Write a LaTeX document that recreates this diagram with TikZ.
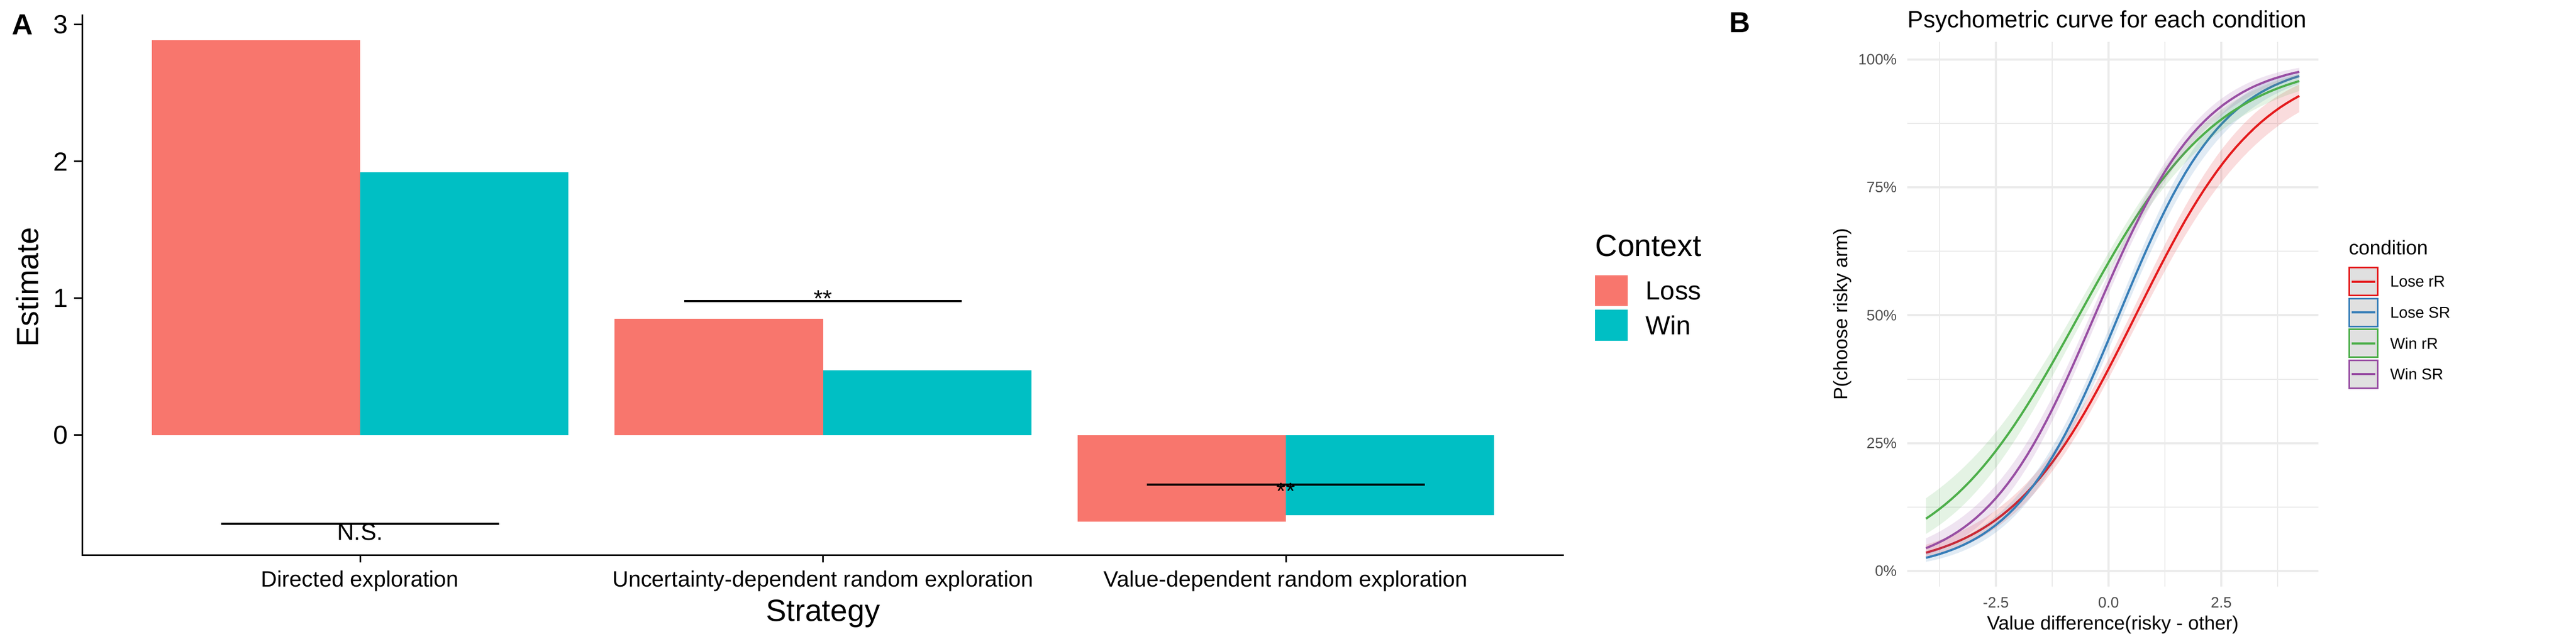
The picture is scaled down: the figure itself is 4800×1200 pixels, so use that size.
\documentclass[tikz,border=0pt]{standalone}
\usepackage{fontspec}
\setmainfont{Liberation Sans}
\usetikzlibrary{positioning}
\newcommand{\fsz}[1]{\fontsize{#1}{#1}\selectfont}
\definecolor{lossred}{HTML}{F8766D}
\definecolor{wincyan}{HTML}{00BFC4}
\definecolor{loserR}{HTML}{E41A1C}
\definecolor{loseSR}{HTML}{377EB8}
\definecolor{winrR}{HTML}{4DAF4A}
\definecolor{winSR}{HTML}{984EA3}
\definecolor{gridgray}{HTML}{EBEBEB}
\definecolor{tickgray}{HTML}{4D4D4D}
\definecolor{keygray}{HTML}{E0E0E0}
\begin{document}
\begin{tikzpicture}[x=0.25pt,y=0.25pt,
	declare function={psy(\t,\p,\q,\s)=1/(1+exp(-((\p)+(\q)*(\t)+(\s)*(0.08+0.018*(\t)*(\t)))));}]
	\tikzstyle{axisline} = [line width=0.75pt]
	\tikzstyle{sigline} = [line width=1pt]
	\tikzstyle{ticklab} = [inner sep=0pt,font=\fsz{12.2}]
	\tikzstyle{catlab} = [inner sep=0pt,font=\fsz{10.35},anchor=base]
	\tikzstyle{axtitle} = [inner sep=0pt,font=\fsz{14.3}]
	\tikzstyle{sigtext} = [inner sep=0pt,font=\fsz{11},anchor=base]
	\tikzstyle{panlab} = [inner sep=0pt,font=\bfseries\fsz{13.5},anchor=base west]
	\tikzstyle{gridmajor} = [gridgray,line width=1pt]
	\tikzstyle{gridminor} = [gridgray,line width=0.5pt]
	\tikzstyle{ptick} = [inner sep=0pt,font=\fsz{7},text=tickgray]
	\tikzstyle{ptitle} = [inner sep=0pt,font=\fsz{9}]
	\tikzstyle{btitle} = [inner sep=0pt,font=\fsz{11},anchor=base west]
	\tikzstyle{curve} = [line width=1pt]
	\tikzstyle{keybox} = [fill=keygray,line width=0.75pt]
	\tikzstyle{leglab} = [inner sep=0pt,font=\fsz{7.3},anchor=west]

	\path[fill=white] (0,0) rectangle (4800,1200);
	\useasboundingbox (0,0) rectangle (4800,1200);

	\node[panlab] (labA) at (22,1135) {A};
	\begin{scope}[shift={(-47.875pt,97.25pt)},x=215.625pt,y=63.75pt]
		\fill[lossred] (0.55,0) rectangle (1,2.886);
		\fill[wincyan] (1,0) rectangle (1.45,1.92);
		\fill[lossred] (1.55,0) rectangle (2,0.851);
		\fill[wincyan] (2,0) rectangle (2.45,0.474);
		\fill[lossred] (2.55,0) rectangle (3,-0.633);
		\fill[wincyan] (3,0) rectangle (3.45,-0.585);

		\draw[axisline] (0.4,3.075) -- (0.4,-0.875) -- (3.6,-0.875);
		\foreach \v in {0,...,3} {
			\draw[axisline] (0.4,\v) -- ++(-3.75pt,0) node[ticklab,anchor=east,xshift=-2.5pt] (ytick\v) {\v};
		}
		\foreach \c/\lab in {1/Directed exploration,2/Uncertainty-dependent random exploration,3/Value-dependent random exploration} {
			\draw[axisline] (\c,-0.875) -- ++(0,-3.5pt);
			\node[catlab] (cat\c) at (\c,-1.106) {\lab};
		}
		\node[axtitle,anchor=base] (xtitleA) at (2,-1.357) {Strategy};
		\node[axtitle,rotate=90] (ytitleA) at (0.281,1.082) {Estimate};

		\coordinate (ns1) at (0.7,-0.647);
		\coordinate (ns2) at (1.3,-0.647);
		\draw[sigline] (ns1) -- (ns2);
		\node[sigtext] (nsA) at (1,-0.765) {N.S.};
		\coordinate (ur1) at (1.7,0.98);
		\coordinate (ur2) at (2.3,0.98);
		\draw[sigline] (ur1) -- (ur2);
		\node[sigtext] (urA) at (2,0.941) {**};
		\coordinate (vr1) at (2.7,-0.36);
		\coordinate (vr2) at (3.3,-0.36);
		\draw[sigline] (vr1) -- (vr2);
		\node[sigtext] (vrA) at (3,-0.467) {**};
	\end{scope}

	\node[axtitle,anchor=base west] (ctxtitle) at (2972,722) {Context};
	\fill[lossred] (2972,687) rectangle (3033,630);
	\fill[wincyan] (2972,623) rectangle (3033,565);
	\node[ticklab,anchor=west] (legloss) at (3066,658.5) {Loss};
	\node[ticklab,anchor=west] (legwin) at (3066,594) {Win};

	\node[panlab] (labB) at (3222,1139) {B};
	\node[btitle] (titleB) at (3554,1148) {Psychometric curve for each condition};
	\begin{scope}[shift={(982.25pt,34pt)},x=21pt,y=238.25pt]
		\foreach \gx in {-3.75,-1.25,1.25,3.75} \draw[gridminor] (\gx,-0.03) -- (\gx,1.035);
		\foreach \gy in {0.125,0.375,0.625,0.875} \draw[gridminor] (-4.46,\gy) -- (4.65,\gy);
		\foreach \gx/\lab [count=\k] in {-2.5/-2.5,0/0.0,2.5/2.5} {
			\draw[gridmajor] (\gx,-0.03) -- (\gx,1.035);
			\node[ptick,anchor=base] (xtickB\k) at (\gx,-0.0724) {\lab};
		}
		\foreach \gy/\lab [count=\k] in {0/0\%,0.25/25\%,0.5/50\%,0.75/75\%,1/100\%} {
			\draw[gridmajor] (-4.46,\gy) -- (4.65,\gy);
			\node[ptick,anchor=east] (ytickB\k) at (-4.69,\gy) {\lab};
		}
		\foreach \cc/\ca/\cb in {loserR/-0.425/0.708,loseSR/-0.19/0.849,winrR/0.42/0.64,winSR/0.25/0.818} {
			\fill[\cc,opacity=0.15] plot[domain=-4.05:4.23,samples=60] (\x,{psy(\x,\ca,\cb,1)})
				-- plot[domain=4.23:-4.05,samples=60] (\x,{psy(\x,\ca,\cb,-1)}) -- cycle;
			\draw[curve,\cc] plot[domain=-4.05:4.23,samples=60] (\x,{psy(\x,\ca,\cb,0)});
		}
		\node[ptitle,anchor=base] (xtitleB) at (0.095,-0.1154) {Value difference(risky - other)};
		\node[ptitle,rotate=90] (ytitleB) at (-5.905,0.5026) {P(choose risky arm)};
	\end{scope}

	\node[ptitle,font=\fsz{9.2},anchor=base west] (condtitle) at (4376,725) {condition};
	\foreach \cc/\lab [count=\k] in {loserR/Lose rR,loseSR/Lose SR,winrR/Win rR,winSR/Win SR} {
		\pgfmathsetmacro{\ky}{701-(\k-1)*57.5}
		\draw[keybox,draw=\cc] (4377,\ky) rectangle ++(53,-52);
		\draw[\cc,line width=1pt] (4382,\ky-26) -- ++(44,0);
		\node[leglab] (key\k) at (4453,\ky-26) {\lab};
	}
\end{tikzpicture}
\end{document}
